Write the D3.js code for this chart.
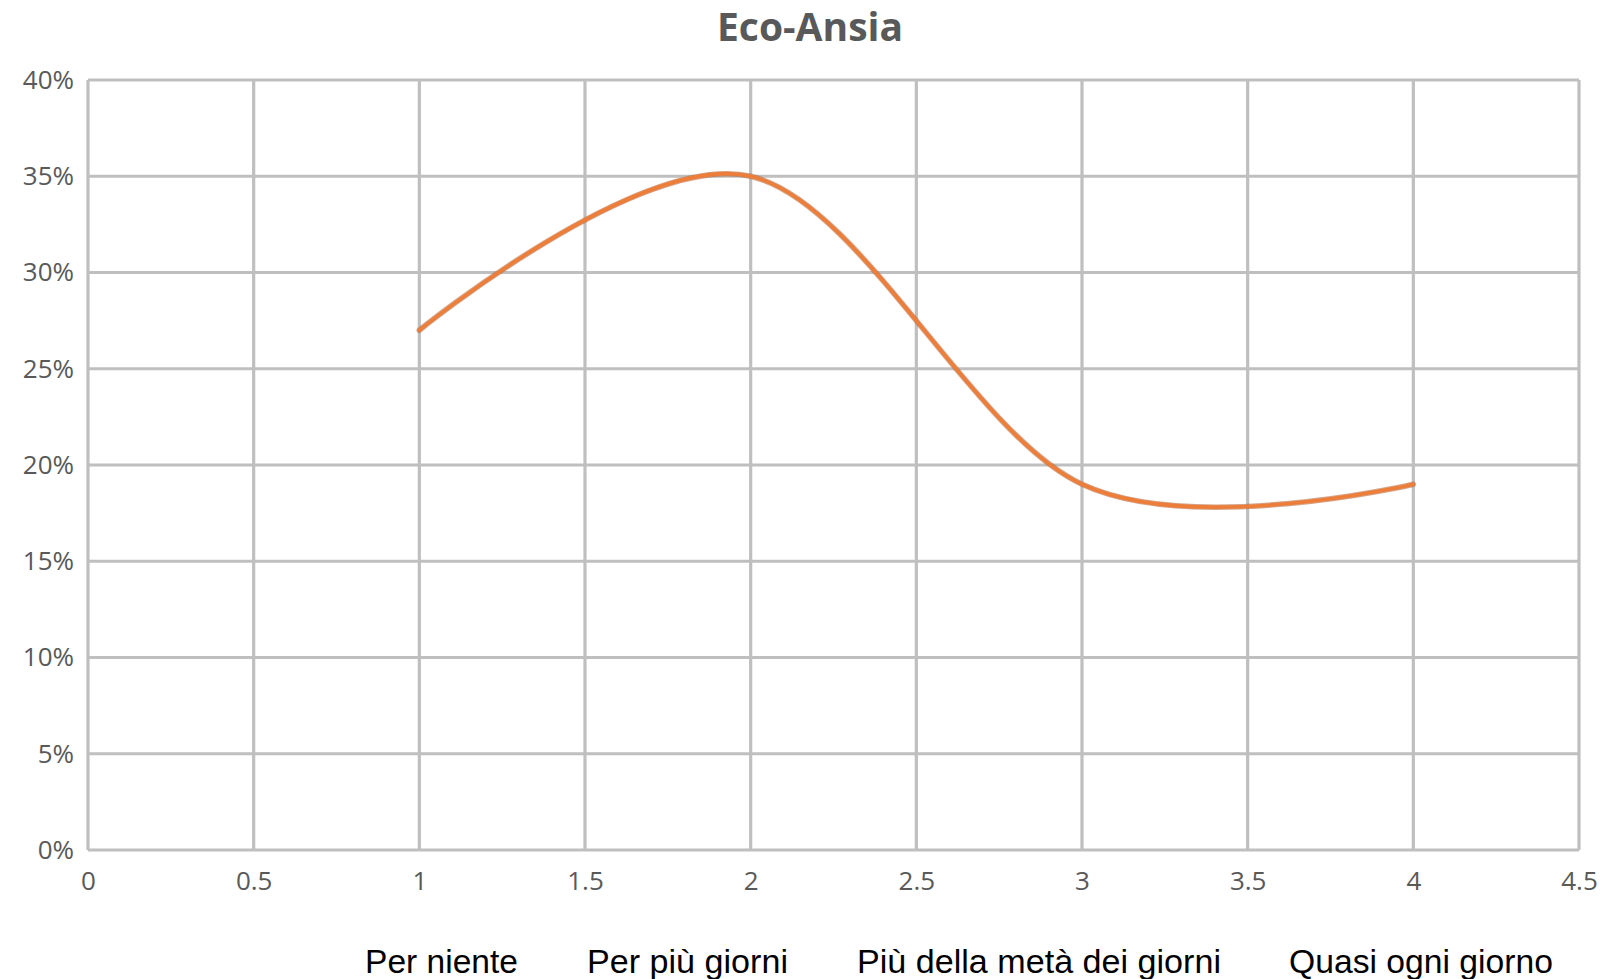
<!DOCTYPE html>
<html>
<head>
<meta charset="utf-8">
<script src="https://cdn.jsdelivr.net/npm/d3@7"></script>
<style>
  html, body { margin: 0; padding: 0; background: #ffffff; }
  svg { display: block; }
</style>
</head>
<body>
<svg id="chart" width="1611" height="979"></svg>
<script>
// Series: share of answers per frequency level (x = 1..4)
const xValues = [1, 2, 3, 4];
const shares = [0.27, 0.35, 0.19, 0.19];
const xTicks = [0, 0.5, 1, 1.5, 2, 2.5, 3, 3.5, 4, 4.5];
const yTicks = [0, 0.05, 0.10, 0.15, 0.20, 0.25, 0.30, 0.35, 0.40];
const categories = ["Per niente", "Per più giorni", "Più della metà dei giorni", "Quasi ogni giorno"];
const title = "Eco-Ansia";

const svg = d3.select("#chart");
const margin = { left: 88, right: 32, top: 80, bottom: 129 };
const W = 1611, H = 979;

const x = d3.scaleLinear().domain([0, 4.5]).range([margin.left, W - margin.right]);
const y = d3.scaleLinear().domain([0, 0.4]).range([H - margin.bottom, margin.top]);

const gridColor = "#bfbfbf";
const textGray = "#595959";
const tickFont = "'Open Sans', 'Noto Sans', sans-serif";

// Vertical gridlines
svg.append("g")
  .selectAll("line")
  .data(xTicks)
  .join("line")
  .attr("x1", d => x(d)).attr("x2", d => x(d))
  .attr("y1", y(0.4)).attr("y2", y(0))
  .attr("stroke", gridColor).attr("stroke-width", 3.2);

// Horizontal gridlines
svg.append("g")
  .selectAll("line")
  .data(yTicks)
  .join("line")
  .attr("x1", x(0)).attr("x2", x(4.5))
  .attr("y1", d => y(d)).attr("y2", d => y(d))
  .attr("stroke", gridColor).attr("stroke-width", 3.2);

// Y axis labels
const yAxis = d3.axisLeft(y).tickValues(yTicks).tickFormat(d3.format(".0%")).tickSize(0).tickPadding(14);
const gy = svg.append("g").attr("transform", `translate(${x(0)},0)`).call(yAxis);
gy.select(".domain").remove();
gy.selectAll("text").attr("fill", textGray).style("font-family", tickFont).style("font-size", "26px");

// X axis labels
const xAxis = d3.axisBottom(x).tickValues(xTicks).tickFormat(d => String(d)).tickSize(0).tickPadding(22);
const gx = svg.append("g").attr("transform", `translate(0,${y(0)})`).call(xAxis);
gx.select(".domain").remove();
gx.selectAll("text").attr("fill", textGray).style("font-family", tickFont).style("font-size", "26px");

// Smoothed series line
const line = d3.line()
  .x((d, i) => x(xValues[i]))
  .y(d => y(d))
  .curve(d3.curveCardinal.tension(0));

svg.append("path")
  .datum(shares)
  .attr("d", line)
  .attr("fill", "none")
  .attr("stroke", "#b8683a")
  .attr("stroke-width", 5.5)
  .attr("stroke-linecap", "round")
  .attr("opacity", 0.6);
svg.append("path")
  .datum(shares)
  .attr("d", line)
  .attr("fill", "none")
  .attr("stroke", "#ec7e3a")
  .attr("stroke-width", 3.6)
  .attr("stroke-linecap", "round");

// Title
svg.append("text")
  .attr("x", 810).attr("y", 41)
  .attr("text-anchor", "middle")
  .attr("fill", textGray)
  .style("font-family", "'Open Sans', 'Noto Sans', sans-serif")
  .style("font-weight", "bold")
  .style("font-size", "39px")
  .text(title);

// Category captions under the axis
const captionLayout = [
  { x: 365, w: 153 },
  { x: 587, w: 201 },
  { x: 857, w: 364 },
  { x: 1289, w: 264 }
];
svg.append("g")
  .selectAll("text")
  .data(categories)
  .join("text")
  .attr("x", (d, i) => captionLayout[i].x)
  .attr("y", 973)
  .attr("textLength", (d, i) => captionLayout[i].w)
  .attr("lengthAdjust", "spacingAndGlyphs")
  .attr("fill", "#000000")
  .style("font-family", "'Liberation Sans Narrow', 'Liberation Sans', sans-serif")
  .style("font-size", "33px")
  .text(d => d);
</script>
</body>
</html>
